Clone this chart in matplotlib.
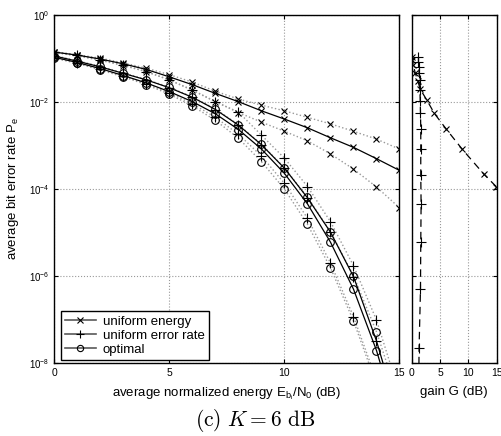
import numpy as np
import matplotlib
matplotlib.use("Agg")
import matplotlib.pyplot as plt
from matplotlib.lines import Line2D

plt.rcParams['font.family'] = ['Liberation Sans', 'DejaVu Sans']
plt.rcParams['mathtext.fontset'] = 'custom'
plt.rcParams['mathtext.rm'] = 'Liberation Sans'
plt.rcParams['mathtext.it'] = 'Liberation Sans:italic'
plt.rcParams['mathtext.sf'] = 'Liberation Sans'

# ---- data (log10 of bit error rate) ----
snr_db = [0, 1, 2, 3, 4, 5, 6, 7, 8, 9, 10, 11, 12, 13, 14, 15]

ue_mid = [-0.86, -0.93, -1.02, -1.13, -1.26, -1.43, -1.61, -1.81, -2.00, -2.21, -2.40, -2.60, -2.83, -3.05, -3.31, -3.58]
ue_up  = [-0.85, -0.92, -1.00, -1.11, -1.23, -1.38, -1.55, -1.76, -1.94, -2.08, -2.21, -2.36, -2.51, -2.68, -2.86, -3.09]
ue_lo  = [-0.87, -0.95, -1.05, -1.17, -1.31, -1.50, -1.74, -2.00, -2.25, -2.47, -2.68, -2.90, -3.20, -3.55, -3.96, -4.44]

uer_mid = [-0.95, -1.07, -1.20, -1.35, -1.50, -1.68, -1.90, -2.18, -2.54, -2.99, -3.53, -4.21, -5.00, -6.02, -7.50, -9.3]
uer_up  = [-0.86, -0.93, -1.04, -1.16, -1.31, -1.50, -1.73, -2.00, -2.24, -2.77, -3.30, -3.95, -4.76, -5.77, -7.02, -8.7]
uer_lo  = [-0.99, -1.11, -1.25, -1.41, -1.59, -1.80, -2.05, -2.36, -2.75, -3.25, -3.88, -4.68, -5.71, -6.94, -8.40, -10.0]

opt_mid = [-0.98, -1.10, -1.24, -1.40, -1.57, -1.77, -2.00, -2.28, -2.64, -3.09, -3.65, -4.35, -5.23, -6.31, -7.72, -9.5]
opt_up  = [-0.94, -1.06, -1.19, -1.34, -1.49, -1.67, -1.89, -2.17, -2.53, -2.98, -3.52, -4.20, -4.99, -6.00, -7.29, -8.9]
opt_lo  = [-1.00, -1.12, -1.27, -1.43, -1.61, -1.83, -2.10, -2.43, -2.84, -3.38, -4.01, -4.82, -5.82, -7.04, -8.50, -10.2]

# gain panel
gain_ue = [0.0, 0.1, 0.3, 0.6, 1.07, 1.5, 2.7, 4.0, 6.1, 8.9, 12.7, 14.9]
gain_ue_ber = [-0.97, -1.05, -1.16, -1.33, -1.52, -1.71, -1.97, -2.27, -2.63, -3.09, -3.66, -3.95]
gain_uer = [1.2, 1.2, 1.25, 1.3, 1.4, 1.45, 1.5, 1.55, 1.6, 1.6, 1.6, 1.66, 1.6, 1.55, 1.3, 1.2]
gain_uer_ber = [-0.97, -1.08, -1.20, -1.35, -1.50, -1.73, -1.98, -2.25, -2.63, -3.09, -3.68, -4.36, -5.23, -6.31, -7.67, -9.2]

xticks = [0, 5, 10, 15]
yticks_exp = [0, -2, -4, -6, -8]

def ber(v):
    return 10.0 ** np.asarray(v, dtype=float)

W, H = 502, 436
fig = plt.figure(figsize=(W / 100, H / 100), dpi=100)
ax = fig.add_axes([54.5 / W, 1 - 362.7 / H, 345 / W, 348 / H])
ax2 = fig.add_axes([411.7 / W, 1 - 362.7 / H, 85 / W, 348 / H])

dot_kw = dict(color='0.6', linestyle=':', linewidth=1.0)
mk = dict(markeredgecolor='black', markerfacecolor='none', markeredgewidth=0.8)

series = [
    (ue_up, ue_mid, ue_lo, 'x', 4.5),
    (uer_up, uer_mid, uer_lo, '+', 7),
    (opt_up, opt_mid, opt_lo, 'o', 5.5),
]
for up, mid, lo, m, ms in series:
    for arr in (up, lo):
        ax.semilogy(snr_db, ber(arr), **dot_kw, zorder=2)
        ax.semilogy(snr_db, ber(arr), linestyle='none', marker=m, markersize=ms, **mk, zorder=3)
    ax.semilogy(snr_db, ber(mid), color='black', linewidth=0.9, marker=m, markersize=ms, **mk, zorder=4)

ax.set_xlim(0, 15)
ax.set_ylim(1e-8, 1e0)

ax2.semilogy(gain_ue, ber(gain_ue_ber), color='black', linestyle=(0, (6, 4)), linewidth=0.9,
             marker='x', markersize=4.5, **mk)
ax2.semilogy(gain_uer[:-1], ber(gain_uer_ber[:-1]), linestyle='none',
             marker='+', markersize=7, **mk)
ax2.semilogy(gain_uer, ber(gain_uer_ber), color='black', linestyle=(0, (6, 4)), linewidth=0.9)
ax2.set_xlim(0, 15)
ax2.set_ylim(1e-8, 1e0)

for a in (ax, ax2):
    a.set_xticks(xticks)
    a.set_yticks([10.0 ** e for e in yticks_exp])
    a.yaxis.set_minor_locator(matplotlib.ticker.NullLocator())
    a.grid(True, which='major', linestyle=':', color='0.6', linewidth=0.8)
    a.tick_params(direction='in', labelsize=7.5, length=3, top=True, right=True)
    for s in a.spines.values():
        s.set_linewidth(1.0)

ax.set_yticklabels([r'$10^{%d}$' % e for e in yticks_exp])
ax.tick_params(axis='y', labelsize=7)
ax2.set_yticklabels([])
ax2.set_xticklabels([str(t) for t in xticks])

ax.set_ylabel(r'average bit error rate P$_\mathrm{e}$', fontsize=9.5, labelpad=6)
ax.set_xlabel(r'average normalized energy E$_{\mathrm{b}_\mathrm{i}}$/N$_\mathrm{0}$ (dB)', fontsize=9.5, labelpad=6)
ax2.set_xlabel('gain G (dB)', fontsize=9.5, labelpad=6)

handles = [
    Line2D([], [], color='0.35', linewidth=1.2, marker='x', markersize=4, **mk),
    Line2D([], [], color='0.35', linewidth=1.2, marker='+', markersize=6, **mk),
    Line2D([], [], color='0.35', linewidth=1.2, marker='o', markersize=4.5, **mk),
]
leg = ax.legend(handles, ['uniform energy', 'uniform error rate', 'optimal'],
                loc='lower left', bbox_to_anchor=(0.01, 0.0), fontsize=9.5,
                frameon=True, fancybox=False, edgecolor='black', framealpha=1,
                borderaxespad=0.2, handlelength=2.4, handletextpad=0.5,
                labelspacing=0.15, borderpad=0.3)
leg.get_frame().set_linewidth(1.0)

fig.text(255 / W, 1 - 420 / H, r'$\mathrm{(c)}\ K = 6\ \mathrm{dB}$', ha='center', va='center',
         fontsize=15.5, math_fontfamily='cm')

fig.savefig('out.png', dpi=100)
